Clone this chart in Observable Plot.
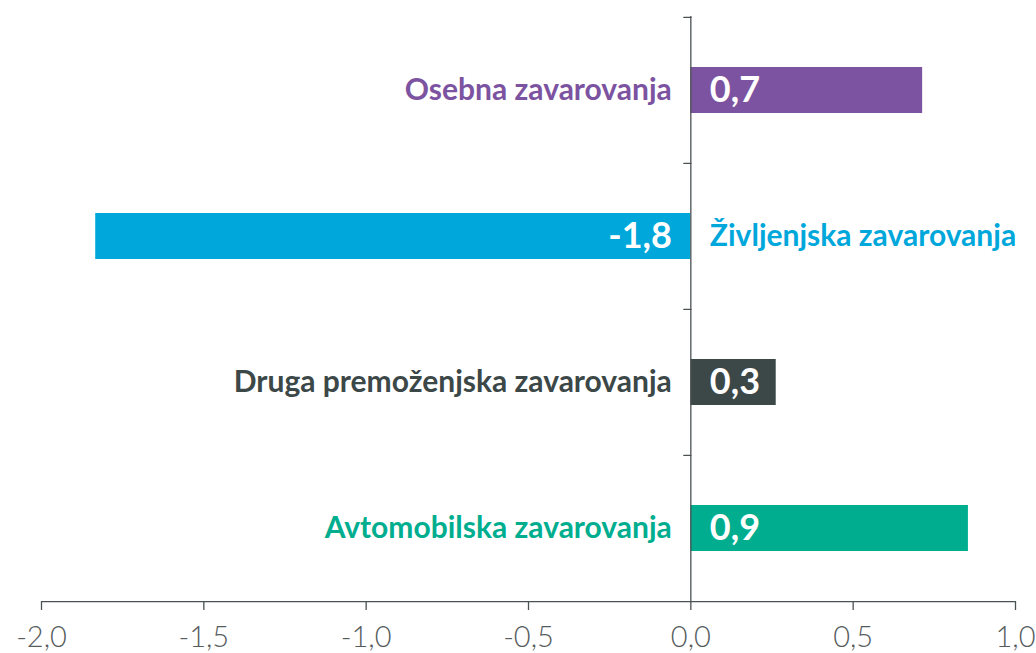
<!DOCTYPE html>
<html>
<head>
<meta charset="utf-8">
<script src="https://cdn.jsdelivr.net/npm/d3@7"></script>
<script src="https://cdn.jsdelivr.net/npm/@observablehq/plot@0.6"></script>
<style>
  html, body { margin: 0; padding: 0; background: #fff; }
  #chart { width: 1036px; height: 653px; }
</style>
</head>
<body>
<div id="chart"></div>
<script>
const categories = ["Osebna zavarovanja", "Življenjska zavarovanja", "Druga premoženjska zavarovanja", "Avtomobilska zavarovanja"];
const values = [0.714, -1.833, 0.263, 0.855];
const colors = ["#7c53a0", "#00a7db", "#3c4748", "#00ae8f"];
const xTicks = [-2.0, -1.5, -1.0, -0.5, 0.0, 0.5, 1.0];

const data = categories.map((c, i) => ({name: c, value: values[i], color: colors[i]}));
const fmt = d => d.toFixed(1).replace(".", ",");

const W = 1036, H = 653;
const mTop = 16, mBottom = 52, mLeft = 41, mRight = 21;
const step = (H - mTop - mBottom) / categories.length;
const axisColor = "#4b5253";
const font = "Lato, 'Open Sans', sans-serif";

const tickLeft = {draw(ctx, l) { ctx.moveTo(0, 0); ctx.lineTo(0, -l); }};

const chart = Plot.plot({
  width: W,
  height: H,
  marginTop: mTop,
  marginBottom: mBottom,
  marginLeft: mLeft,
  marginRight: mRight,
  style: {fontFamily: font, background: "#fff", overflow: "visible"},
  x: {domain: [-2, 1], ticks: xTicks, tickFormat: fmt, label: null},
  y: {domain: categories, paddingInner: 0.686, paddingOuter: 0.343, axis: null},
  marks: [
    Plot.barX(data, {x: "value", y: "name", fill: "color"}),
    Plot.ruleX([0], {stroke: axisColor, strokeWidth: 1.3}),
    Plot.ruleY([0], {y: () => categories[categories.length - 1], dy: step / 2, stroke: axisColor, strokeWidth: 1.3}),
    Plot.vector(categories, {x: () => 0, y: d => d, length: 7, rotate: -90, anchor: "start", shape: tickLeft, stroke: axisColor, strokeWidth: 1.3, dy: -step / 2}),
    Plot.axisX({ticks: xTicks, tickFormat: fmt, tickSize: 9, tickPadding: 16, stroke: axisColor, strokeWidth: 1.3, fill: "#565c5d", fontSize: 29, fontWeight: 300, label: null}),
    Plot.text(data.filter(d => d.value >= 0), {x: () => 0, y: "name", text: "name", fill: "color", textAnchor: "end", dx: -19, fontSize: 30, fontWeight: "bold"}),
    Plot.text(data.filter(d => d.value < 0), {x: () => 0, y: "name", text: "name", fill: "color", textAnchor: "start", dx: 19, fontSize: 30, fontWeight: "bold"}),
    Plot.text(data.filter(d => d.value >= 0), {x: () => 0, y: "name", text: d => fmt(d.value), fill: "white", textAnchor: "start", dx: 19, fontSize: 36, fontWeight: "bold"}),
    Plot.text(data.filter(d => d.value < 0), {x: () => 0, y: "name", text: d => fmt(d.value), fill: "white", textAnchor: "end", dx: -19, fontSize: 36, fontWeight: "bold"})
  ]
});
document.getElementById("chart").appendChild(chart);
</script>
</body>
</html>
